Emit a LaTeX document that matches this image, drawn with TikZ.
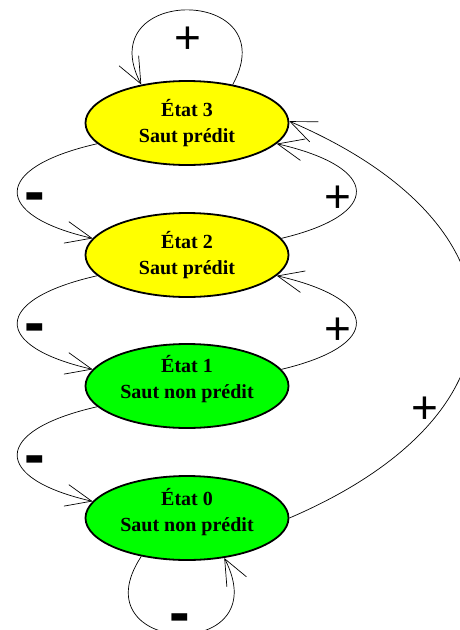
\documentclass[tikz,border=0pt]{standalone}
\usepackage{fontspec}
\setmainfont{Liberation Serif}
\newfontfamily\signfont{Liberation Sans}
\usetikzlibrary{shapes.geometric,arrows.meta}
\definecolor{etatjaune}{RGB}{255,255,0}
\definecolor{etatvert}{RGB}{0,255,0}
\begin{document}
\begin{tikzpicture}[x=1pt,y=-1pt,
  etat/.style={ellipse, draw, line width=1.8pt, minimum width=203pt,
    minimum height=84pt, inner sep=0pt},
  nom/.style={inner sep=0pt, align=center,
    font=\fontsize{20}{26}\selectfont\bfseries},
  trans/.style={line width=0.7pt,
    -{Straight Barb[length=26pt,width=22pt,line width=0.7pt]}},
  plus/.style={font=\signfont\fontsize{46}{46}\selectfont, inner sep=0pt},
  moins/.style={font=\signfont\bfseries\fontsize{62}{62}\selectfont, inner sep=0pt},
]
\useasboundingbox (0,0) rectangle (460,630);

% the four states of the 2-bit predictor
\node[etat, fill=etatjaune] (s3) at (187,123) {};
\node[etat, fill=etatjaune] (s2) at (187,255) {};
\node[etat, fill=etatvert]  (s1) at (187,386) {};
\node[etat, fill=etatvert]  (s0) at (187,518) {};
\node[nom] (t3) at (187,123.5) {État 3\\Saut prédit};
\node[nom] (t2) at (187,255.5) {État 2\\Saut prédit};
\node[nom] (t1) at (187,379.5) {État 1\\Saut non prédit};
\node[nom] (t0) at (187,512.5) {État 0\\Saut non prédit};

% transitions on a taken branch (+)
\draw[trans] (s3.40) .. controls +(54,-99) and +(-52,-100) .. (s3.140);
\draw[trans] (s2.10) .. controls +(101,-24) and +(105,24) .. (s3.347);
\draw[trans] (s1.10) .. controls +(101,-24) and +(105,24) .. (s2.347);
\draw[trans] (s0.0) .. controls +(245,-105) and +(245,105) .. (s3.1);

% transitions on a branch not taken (-)
\draw[trans] (s3.193) .. controls +(-106,24) and +(-101,-23) .. (s2.170);
\draw[trans] (s2.193) .. controls +(-106,24) and +(-101,-23) .. (s1.170);
\draw[trans] (s1.193) .. controls +(-106,24) and +(-101,-23) .. (s0.170);
\draw[trans] (s0.220) .. controls +(-65,99) and +(55,106) .. (s0.313);

% labels, each box trimmed to the ink of its sign
\node[plus] (l33) at (188,37.5) {\raisebox{-0.34em}[0.25em][0.25em]{+}};
\node[plus] (l23) at (337.5,197) {\raisebox{-0.34em}[0.25em][0.25em]{+}};
\node[plus] (l12) at (337.5,329) {\raisebox{-0.34em}[0.25em][0.25em]{+}};
\node[plus] (l03) at (425,407.5) {\raisebox{-0.34em}[0.25em][0.25em]{+}};
\node[moins] (l32) at (34.5,193.5) {\raisebox{-0.3em}[0.07em][0.07em]{-}};
\node[moins] (l21) at (34.5,324.5) {\raisebox{-0.3em}[0.07em][0.07em]{-}};
\node[moins] (l10) at (34.5,456.5) {\raisebox{-0.3em}[0.07em][0.07em]{-}};
\node[moins] (l00) at (179.5,615) {\raisebox{-0.3em}[0.07em][0.07em]{-}};
\end{tikzpicture}
\end{document}
